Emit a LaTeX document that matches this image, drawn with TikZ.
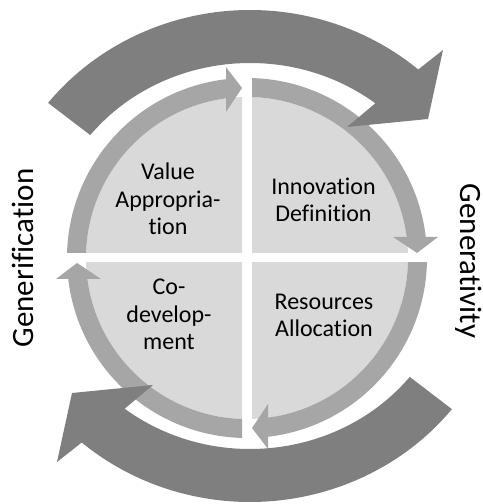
\documentclass[tikz,border=0pt]{standalone}
\usepackage{fontspec}
\setmainfont{Carlito}[Ligatures=NoCommon]
\definecolor{darkarrow}{HTML}{7F7F7F}
\definecolor{ringgray}{HTML}{A6A6A6}
\definecolor{diskgray}{HTML}{D9D9D9}
\begin{document}
\begin{tikzpicture}[x=1bp,y=1bp,
  lab/.style={font=\fontsize{24bp}{27.5bp}\selectfont, align=center, anchor=base, inner sep=0pt, text=black},
  side/.style={font=\fontsize{31bp}{36bp}\selectfont, anchor=base, inner sep=0pt, text=black},
  darkshape/.style={fill=darkarrow},
  ringshape/.style={fill=ringgray}]
\useasboundingbox (-247,-246) rectangle (236,258);
% four quadrants with their light arrows
\foreach \r in {0,90,180,270}{
  \begin{scope}[rotate=\r]
    \begin{scope}
      \clip (5,5) rectangle (200,200);
      \fill[diskgray] (0,0) circle[radius=161bp];
      \fill[ringshape] (7.49:161) arc[start angle=7.49,end angle=95,radius=161bp]
        -- (95:180) arc[start angle=95,end angle=6.70,radius=180bp] -- cycle;
      \fill[ringshape] (146,21) -- (170,5) -- (191,21) -- cycle;
    \end{scope}
  \end{scope}
}
% two big dark arrows
\foreach \r in {0,180}{
  \fill[darkshape, rotate around={\r:(3,2)}]
    ({3+258*cos(141.5)},{2+246*sin(141.5)})
    arc[start angle=141.5,end angle=49.3,x radius=258bp,y radius=246bp]
    -- (196,208) -- (181,139) -- (100,131)
    -- ({3+205*cos(52.3)},{2+193*sin(52.3)})
    arc[start angle=52.3,end angle=141.2,x radius=205bp,y radius=193bp]
    -- cycle;
}
% labels (base anchor = baseline of last line)
\node[lab] (va) at (-79,23) {Value\\Appropria-\\tion};
\node[lab] (id) at (76.5,36) {Innovation\\Definition};
\node[lab] (cd) at (-78,-92) {Co-\\develop-\\ment};
\node[lab] (ra) at (77,-79) {Resources\\Allocation};
\node[side, rotate=90] (gen) at (-213.5,0) {Generification};
\node[side, rotate=-90] (gev) at (213,-3) {Generativity};
\end{tikzpicture}
\end{document}
